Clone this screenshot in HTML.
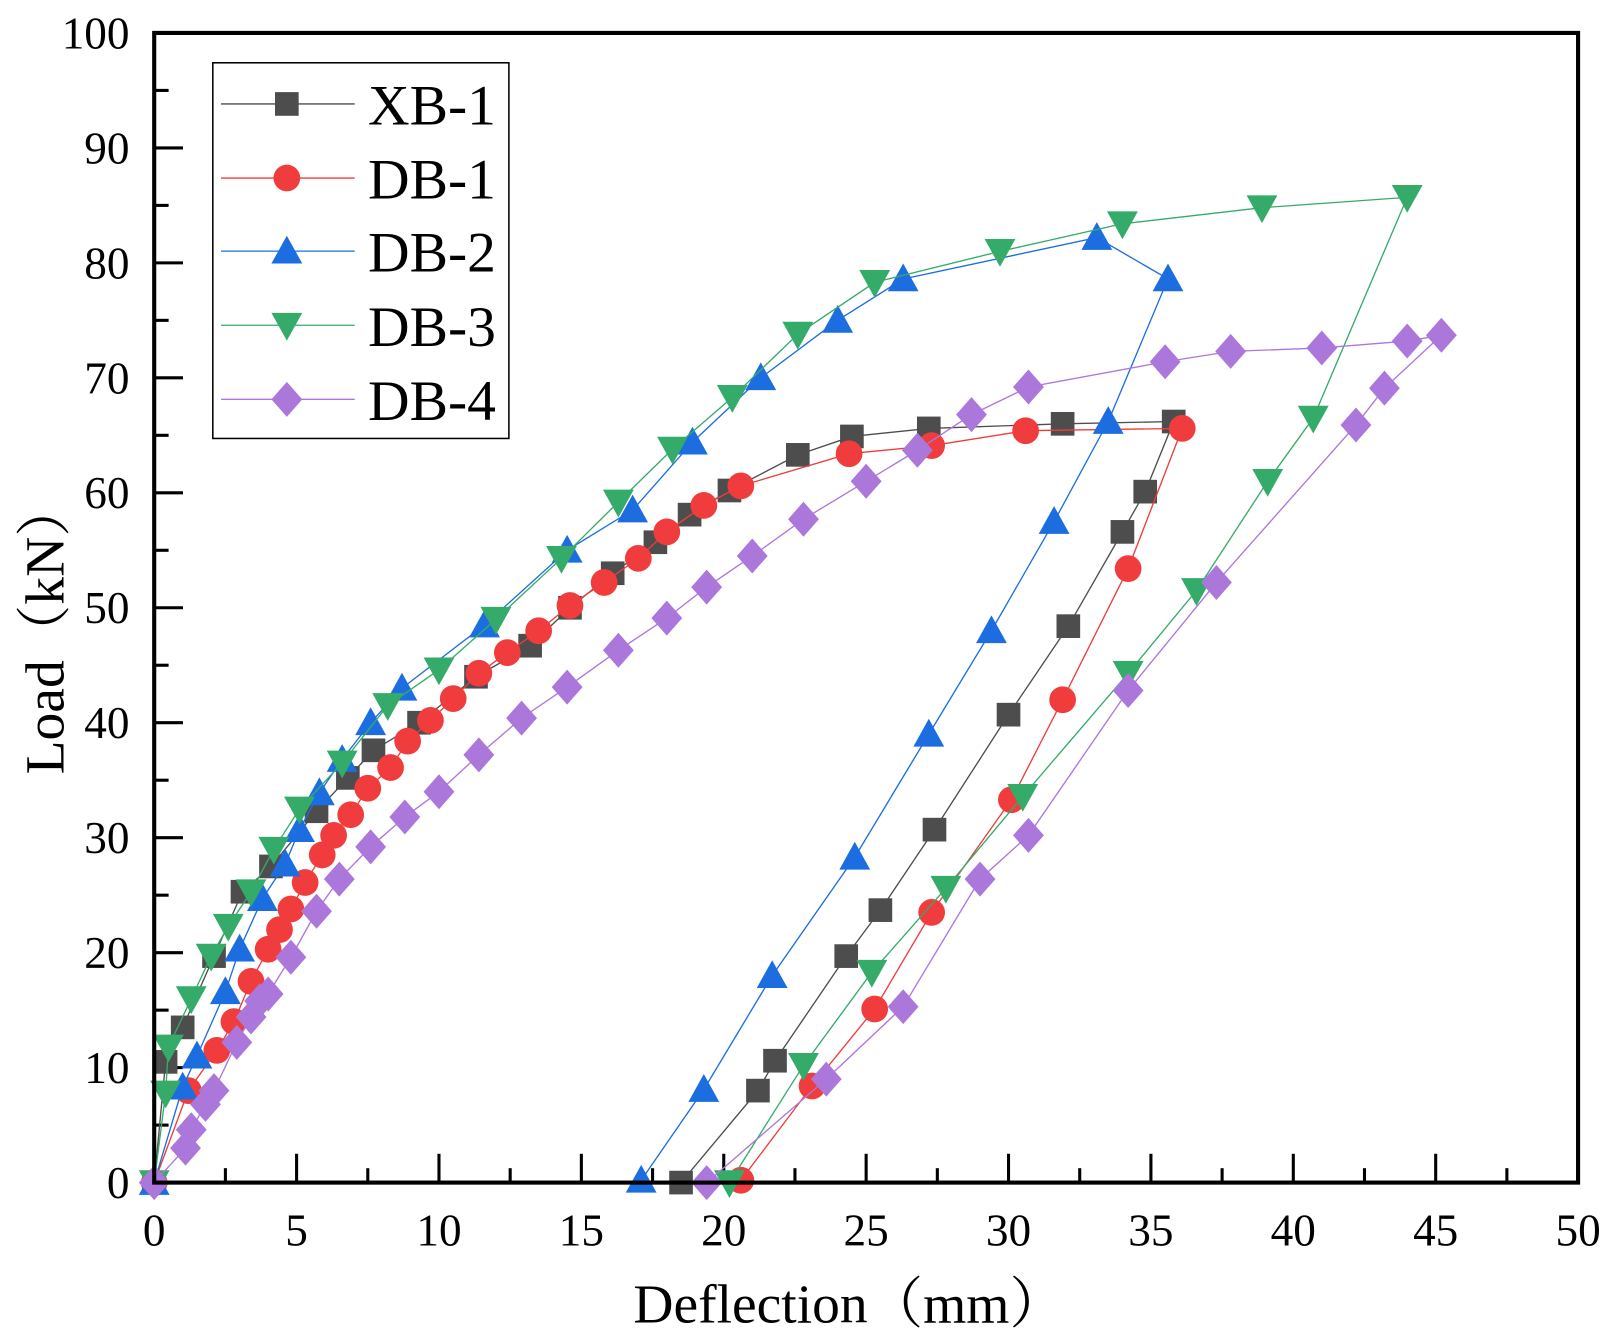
<!DOCTYPE html>
<html><head><meta charset="utf-8"><style>
html,body{margin:0;padding:0;background:#fff;}
svg{display:block;}
text{font-family:"Liberation Serif","Noto Serif CJK SC",serif;fill:#000;}
</style></head><body>
<svg id="chart" width="1612" height="1338" viewBox="0 0 1568 1300" preserveAspectRatio="none" xmlns="http://www.w3.org/2000/svg"></svg>
<script>
const xTicks=[0,5,10,15,20,25,30,35,40,45,50];
const yTicks=[0,10,20,30,40,50,60,70,80,90,100];
const seriesNames=["XB-1","DB-1","DB-2","DB-3","DB-4"];
const xb1X=[0,0.4,1.0,2.1,3.1,4.1,5.7,6.8,7.7,9.3,11.3,13.2,14.6,16.1,17.6,18.8,20.2,22.6,24.5,27.2,31.9,35.8,34.8,34.0,32.1,30.0,27.4,25.5,24.3,21.8,21.2,18.5];
const xb1Y=[0,10.5,13.5,19.7,25.3,27.5,32.3,35.2,37.6,40,44,46.7,50,53,55.7,58.1,60.2,63.3,64.9,65.6,66,66.2,60.1,56.6,48.4,40.7,30.7,23.7,19.7,10.6,8,0];
const db1X=[0,1.2,2.2,2.8,3.4,4.0,4.4,4.8,5.3,5.9,6.3,6.9,7.5,8.3,8.9,9.7,10.5,11.4,12.4,13.5,14.6,15.8,17.0,18.0,19.3,20.6,24.4,27.3,30.6,36.1,34.2,31.9,30.1,27.3,25.3,23.1,20.6];
const db1Y=[0,8,11.5,14,17.5,20.3,22,23.8,26.1,28.5,30.2,32,34.3,36.1,38.4,40.2,42.1,44.3,46.1,48,50.2,52.2,54.3,56.6,58.9,60.6,63.4,64.1,65.4,65.6,53.4,42,33.3,23.5,15.1,8.4,0.2];
const db2X=[0,1.0,1.5,2.5,3.0,3.8,4.6,5.1,5.8,6.6,7.6,8.7,11.6,14.5,16.8,18.9,21.3,24.0,26.3,33.1,35.6,33.5,31.6,29.4,27.2,24.6,21.7,19.3,17.1];
const db2Y=[0,8.3,11,16.6,20.3,24.7,27.7,30.7,33.9,36.8,40,43,48.5,55,58.5,64.4,70,75,78.6,82.2,78.6,66.2,57.5,48,39,28.3,18,8.1,0.2];
const db3X=[0,0.4,0.5,1.3,2.0,2.6,3.4,4.2,5.1,6.6,8.2,10.0,12.0,14.3,16.3,18.2,20.3,22.6,25.3,29.7,34.0,38.9,44.0,40.7,39.1,36.6,34.2,30.5,27.8,25.2,22.8,20.2];
const db3Y=[0,7.8,11.8,16,19.7,22.3,25.3,29,32.5,36.5,41.5,44.6,49,54.3,59.2,63.8,68.3,73.8,78.3,81,83.4,84.8,85.7,66.5,61,51.5,44.3,33.6,25.6,18.3,10.2,0];
const db4X=[0,1.1,1.3,1.8,2.1,2.9,3.4,3.7,4.0,4.8,5.7,6.5,7.6,8.8,10.0,11.4,12.9,14.5,16.3,18.0,19.4,21.0,22.8,25.0,26.8,28.7,30.7,35.5,37.8,41.0,44.0,45.2,43.2,42.2,37.3,34.2,30.7,29.0,26.3,23.6,19.4];
const db4Y=[0,3,4.6,6.8,8,12.2,14.4,15.8,16.4,19.6,23.6,26.4,29.2,31.8,34,37.2,40.4,43.1,46.3,49.1,51.8,54.5,57.7,61,63.7,66.8,69.2,71.4,72.3,72.6,73.2,73.7,69.1,65.9,52.2,42.8,30.2,26.4,15.3,9,0];

const NS="http://www.w3.org/2000/svg";
const svg=document.getElementById('chart');
const L=150,R=1535,T=32,B=1149;
const xs=v=>L+(v-0)/(50-0)*(R-L);
const ys=v=>B-(v-0)/(100-0)*(B-T);
function mk(tag,attrs,parent){const e=document.createElementNS(NS,tag);for(const k in attrs)e.setAttribute(k,attrs[k]);(parent||svg).appendChild(e);return e;}

for(let i=0;i<=20;i++){
  const v=i*2.5, major=i%2===0, len=major?28:14;
  const t=mk('line',{x1:xs(v),x2:xs(v),y1:B,y2:B-len,stroke:'#000','stroke-width':3});
  
  
}
for(let i=0;i<=20;i++){
  const v=i*5, major=i%2===0, len=major?28:14;
  const t=mk('line',{x1:L,x2:L+len,y1:ys(v),y2:ys(v),stroke:'#000','stroke-width':3});
  
  
}
xTicks.forEach(v=>{
  const t=mk('text',{x:xs(v),y:1210,'text-anchor':'middle','font-size':44});
  t.textContent=v;
  
  
});
yTicks.forEach(v=>{
  const t=mk('text',{x:126,y:ys(v)+15,'text-anchor':'end','font-size':44});
  t.textContent=v;
  
  
});
const xt=mk('text',{x:826,y:1285,'text-anchor':'middle','font-size':54});
xt.textContent='Deflection（mm）';


const yt=mk('text',{x:0,y:0,'text-anchor':'middle','font-size':54,transform:'translate(62,610) rotate(-90)'});
yt.textContent='Load（kN）';



const colors=['#4d4d4d','#f03c3c','#1c6ee0','#35ab6a','#ab77db'];
const lineCols=['#4d4d4d','#f03c3c','#1c6ee0','#35ab6a','#ab77db'];
const shapes=['square','circle','up','down','diamond'];
const allX=[xb1X,db1X,db2X,db3X,db4X], allY=[xb1Y,db1Y,db2Y,db3Y,db4Y];

function marker(shape,cx,cy,col,parent,s){
  s=s||1;
  if(shape==='square')return mk('rect',{x:cx-11.5*s,y:cy-11.5*s,width:23*s,height:23*s,fill:col},parent);
  if(shape==='circle')return mk('circle',{cx:cx,cy:cy,r:13*s,fill:col},parent);
  if(shape==='up')return mk('polygon',{points:`${cx},${cy-15*s} ${cx-15*s},${cy+12*s} ${cx+15*s},${cy+12*s}`,fill:col},parent);
  if(shape==='down')return mk('polygon',{points:`${cx},${cy+15*s} ${cx-15*s},${cy-12*s} ${cx+15*s},${cy-12*s}`,fill:col},parent);
  return mk('polygon',{points:`${cx},${cy-17*s} ${cx+15*s},${cy} ${cx},${cy+17*s} ${cx-15*s},${cy}`,fill:col},parent);
}

for(let s=0;s<5;s++){
  const g=mk('g',{});
  
  
  const X=allX[s],Y=allY[s];
  const pts=X.map((x,i)=>xs(x)+','+ys(Y[i])).join(' ');
  const pl=mk('polyline',{points:pts,fill:'none',stroke:lineCols[s],'stroke-width':1.3},g);
  
  
  X.forEach((x,i)=>{
    const m=marker(shapes[s],xs(x),ys(Y[i]),colors[s],g);
    
    
  });
}

const fr=mk('rect',{x:L,y:T,width:R-L,height:B-T,fill:'none',stroke:'#000','stroke-width':4});



const lg=mk('g',{});


mk('rect',{x:207,y:61,width:288,height:365,fill:'#fff',stroke:'#000','stroke-width':1.5},lg);
const ly=[101,173,244,316,388];
for(let s=0;s<5;s++){
  const e=mk('g',{},lg);
  
  
  mk('line',{x1:215,x2:345,y1:ly[s],y2:ly[s],stroke:lineCols[s],'stroke-width':1.3},e);
  marker(shapes[s],279,ly[s],colors[s],e);
  const t=mk('text',{x:358,y:ly[s]+20,'font-size':56},e);
  t.textContent=seriesNames[s];
}
</script>
</body></html>
